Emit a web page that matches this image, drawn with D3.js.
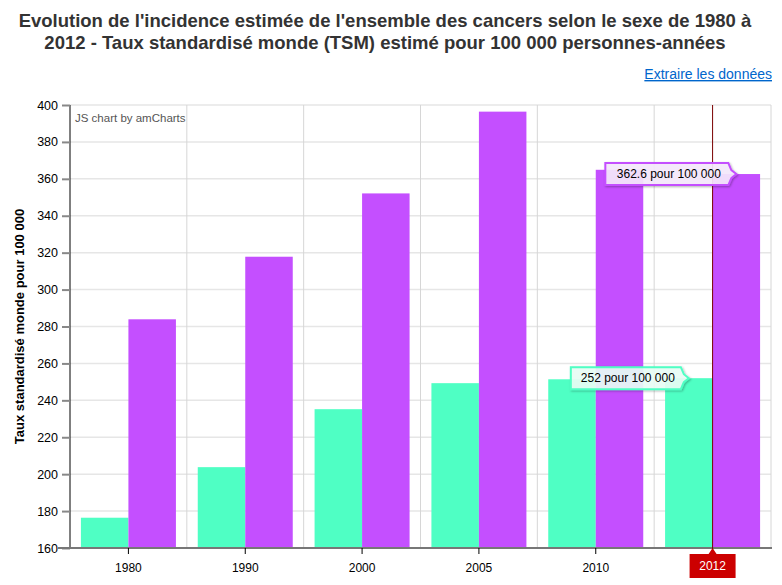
<!DOCTYPE html>
<html><head><meta charset="utf-8">
<script src="https://cdn.jsdelivr.net/npm/d3@7"></script>
<style>
body{margin:0;background:#fff;font-family:"Liberation Sans",Arial,sans-serif;}
</style></head><body>
<svg id="c" width="782" height="585"></svg>
<script>
const categories = ["1980","1990","2000","2005","2010","2012"];
const femmes = [176.4, 203.8, 235.2, 249.3, 251.4, 252];
const hommes = [283.9, 317.8, 352.1, 396.4, 364.9, 362.6];
const yTicks = [160,180,200,220,240,260,280,300,320,340,360,380,400];
const colors = {femmes:"#4FFFC4", hommes:"#C44FFF"};

const svg = d3.select("#c");
const W=782,H=585;
const m={l:70,r:11,t:105,b:37};
const xb = d3.scaleBand().domain(categories).range([m.l, W-m.r]);
const x1 = d3.scaleBand().domain(["femmes","hommes"]).range([-47.5,47.5]);
const y = d3.scaleLinear().domain([160,400]).range([H-m.b, m.t]);

// title
const title = svg.append("g").attr("font-weight","bold").attr("font-size","18.5px").attr("fill","#333").attr("text-anchor","middle");
title.append("text").attr("x",385).attr("y",27).text("Evolution de l'incidence estimée de l'ensemble des cancers selon le sexe de 1980 à");
title.append("text").attr("x",385).attr("y",49).text("2012 - Taux standardisé monde (TSM) estimé pour 100 000 personnes-années");

svg.append("text").attr("x",772).attr("y",79).attr("text-anchor","end").attr("font-size","14px")
  .attr("fill","#0066cc").attr("text-decoration","underline").text("Extraire les données");

// gridlines horizontal
svg.append("g").selectAll("line").data(yTicks).join("line")
  .attr("x1",m.l).attr("x2",W-m.r).attr("y1",d=>y(d)).attr("y2",d=>y(d))
  .attr("stroke","#e6e6e6").attr("stroke-width",1.5);
// vertical grid at band boundaries
const bounds = categories.map(c=>xb(c)+xb.bandwidth());
svg.append("g").selectAll("line").data(bounds).join("line")
  .attr("x1",d=>d).attr("x2",d=>d).attr("y1",m.t).attr("y2",H-m.b)
  .attr("stroke","#d6d6d6").attr("stroke-width",1);

// bars
const rows = categories.map((c,i)=>({c, femmes:femmes[i], hommes:hommes[i]}));
const g = svg.append("g");
rows.forEach(r=>{
  ["femmes","hommes"].forEach(k=>{
    g.append("rect").attr("x",xb(r.c)+xb.bandwidth()/2 + x1(k))
      .attr("y",y(r[k])).attr("width",x1.bandwidth()).attr("height",y(160)-y(r[k]))
      .attr("fill",colors[k]);
  });
});

// y axis
const ya = svg.append("g").attr("transform",`translate(${m.l},0)`)
  .call(d3.axisLeft(y).tickValues(yTicks).tickSize(8).tickPadding(4).tickFormat(d3.format("d")));
ya.select(".domain").attr("stroke","#000").attr("d",`M0,${m.t}V${H-m.b}`);
ya.selectAll(".tick line").attr("stroke","#888").attr("stroke-width",2);
ya.selectAll(".tick text").attr("font-size","12.5px").attr("fill","#000").attr("font-family","Liberation Sans, Arial");

// x axis
const xa = svg.append("g").attr("transform",`translate(0,${H-m.b})`)
  .call(d3.axisBottom(xb).tickSize(6).tickPadding(9));
xa.select(".domain").attr("stroke","#777").attr("stroke-width",2).attr("d",`M${m.l-12},0H${W-m.r+1}`);
xa.selectAll(".tick line").attr("stroke","#000");
xa.selectAll(".tick text").attr("font-size","12px").attr("fill","#000").attr("font-family","Liberation Sans, Arial");

// y title
svg.append("text").attr("transform",`translate(24,${(m.t+H-m.b)/2}) rotate(-90)`).attr("text-anchor","middle")
  .attr("font-size","13px").attr("font-weight","bold").attr("fill","#000").text("Taux standardisé monde pour 100 000");

svg.append("text").attr("x",75).attr("y",122).attr("font-size","11.5px").attr("fill","#555").text("JS chart by amCharts");

// cursor
const last = categories[categories.length-1];
const cx = xb(last)+xb.bandwidth()/2;
svg.append("line").attr("x1",cx).attr("x2",cx).attr("y1",m.t).attr("y2",H-m.b).attr("stroke","#7a0000").attr("stroke-width",1);
// category balloon
svg.append("path").attr("d",`M${cx-23},${H-m.b+6}H${cx-4}L${cx},${H-m.b}L${cx+4},${H-m.b+6}H${cx+23}V${H-m.b+30}H${cx-23}Z`).attr("fill","#CC0000");
svg.append("text").attr("x",cx).attr("y",H-m.b+22).attr("text-anchor","middle").attr("font-size","12px").attr("fill","#fff").text(last);

// value balloons
const defs = svg.append("defs");
const f = defs.append("filter").attr("id","sh").attr("x","-20%").attr("y","-30%").attr("width","150%").attr("height","180%");
f.append("feDropShadow").attr("dx",1).attr("dy",1).attr("stdDeviation",1).attr("flood-opacity",0.3);
function balloon(val, key, fill, w){
  const py = y(val);
  const tip = cx + x1(key) + x1.bandwidth()/2;
  const x2 = tip-8, x1b = x2-w, top = py-11, bot = py+11;
  svg.append("path").attr("d",`M${x1b},${top}H${x2}L${x2+3},${py-4}L${tip},${py}L${x2+3},${py+4}L${x2},${bot}H${x1b}Z`)
    .attr("fill",fill).attr("fill-opacity",0.9).attr("stroke",colors[key]).attr("stroke-width",2)
    .attr("filter","url(#sh)");
  svg.append("text").attr("x",(x1b+x2)/2+2).attr("y",py+4).attr("text-anchor","middle").attr("font-size","12px").attr("fill","#000")
    .text(`${val} pour 100 000`);
}
balloon(hommes[5], "hommes", "#f6eafd", 123);
balloon(femmes[5], "femmes", "#eafff7", 110);
</script></body></html>
